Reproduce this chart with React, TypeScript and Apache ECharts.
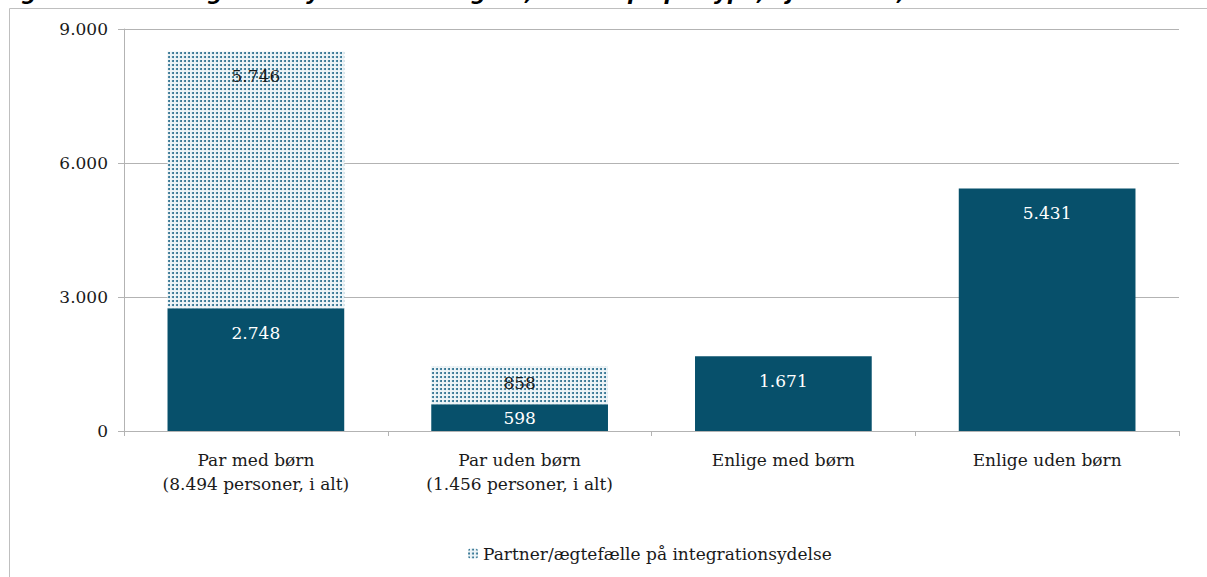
import React, { useEffect, useRef } from "react";
import * as echarts from "echarts";

const titleText =
  "Figur 4 Antal integrationsydelsesmodtagere, fordelt på partype, i juni 2016, antal";
const categories = [
  "Par med børn\n(8.494 personer, i alt)",
  "Par uden børn\n(1.456 personer, i alt)",
  "Enlige med børn",
  "Enlige uden børn",
];
const ownValues = [2748, 598, 1671, 5431];
const partnerValues: (number | null)[] = [5746, 858, null, null];
const partnerName = "Partner/ægtefælle på integrationsydelse";
const ownName = "Integrationsydelsesmodtager";
const yTicks = { min: 0, max: 9000, interval: 3000 };

const fmt = (v: number) =>
  String(v).replace(/\B(?=(\d{3})+(?!\d))/g, ".");

const SERIF = "'DejaVu Serif', 'Liberation Serif', serif";
const FS = 17;

export default function App() {
  const ref = useRef<HTMLDivElement>(null);
  useEffect(() => {
    if (!ref.current) return;
    const chart = echarts.init(ref.current, undefined, { renderer: "svg" });
    chart.setOption({
      animation: false,
      backgroundColor: "#ffffff",
      graphic: [
        {
          type: "rect",
          shape: { x: 9.5, y: 8.5, width: 1300, height: 600 },
          style: { fill: "none", stroke: "#bfbfbf", lineWidth: 1 },
          silent: true,
        },
        {
          type: "text",
          x: 0,
          y: 3,
          style: {
            text: titleText,
            fontFamily: "'DejaVu Sans', sans-serif",
            fontStyle: "italic",
            fontWeight: "bold",
            fontSize: 21,
            fill: "#000000",
            textVerticalAlign: "bottom",
          },
          silent: true,
        },
      ],
      grid: { left: 124, right: 28, top: 29, bottom: 146, containLabel: false },
      legend: {
        data: [partnerName],
        left: 463,
        top: 540,
        itemWidth: 10,
        itemHeight: 10,
        textStyle: { fontFamily: SERIF, fontSize: FS, color: "#1a1a1a" },
      },
      xAxis: {
        type: "category",
        data: categories,
        axisLine: { show: true, lineStyle: { color: "#b3b3b3" } },
        axisTick: { show: true, length: 5, alignWithLabel: false, lineStyle: { color: "#b3b3b3" } },
        axisLabel: {
          fontFamily: SERIF,
          fontSize: FS,
          color: "#1a1a1a",
          lineHeight: 24,
          margin: 17,
          interval: 0,
        },
      },
      yAxis: {
        type: "value",
        min: yTicks.min,
        max: yTicks.max,
        interval: yTicks.interval,
        axisLine: { show: true, lineStyle: { color: "#b3b3b3" } },
        axisTick: { show: true, length: 6, lineStyle: { color: "#b3b3b3" } },
        splitLine: { show: true, lineStyle: { color: "#b3b3b3", width: 1 } },
        axisLabel: {
          fontFamily: SERIF,
          fontSize: FS,
          color: "#1a1a1a",
          margin: 16,
          formatter: (v: number) => fmt(v),
        },
      },
      series: [
        {
          name: ownName,
          type: "bar",
          stack: "a",
          barWidth: "67%",
          itemStyle: { color: "#07506b" },
          label: {
            show: true,
            position: "insideTop",
            distance: 16,
            color: "#ffffff",
            fontFamily: SERIF,
            fontSize: FS,
            formatter: (p: any) => fmt(p.value),
          },
          data: ownValues.map((v, i) =>
            i === 1 ? { value: v, label: { position: "inside" } } : { value: v }
          ),
        },
        {
          name: partnerName,
          type: "bar",
          stack: "a",
          barWidth: "67%",
          itemStyle: {
            color: "#eef4f7",
            decal: {
              symbol: "circle",
              symbolSize: 1,
              color: "#23698a",
              dashArrayX: [2, 2],
              dashArrayY: [2, 2],
              rotation: 0,
            },
          },
          label: {
            show: true,
            position: "insideTop",
            distance: 16,
            color: "#1a1a1a",
            fontFamily: SERIF,
            fontSize: FS,
            formatter: (p: any) => (p.value == null ? "" : fmt(p.value)),
          },
          data: partnerValues.map((v, i) =>
            i === 1 ? { value: v, label: { distance: 9 } } : { value: v }
          ),
        },
      ],
    });
    return () => chart.dispose();
  }, []);
  return (
    <div
      ref={ref}
      style={{ position: "absolute", left: 0, top: 0, width: 1207, height: 577 }}
    />
  );
}
